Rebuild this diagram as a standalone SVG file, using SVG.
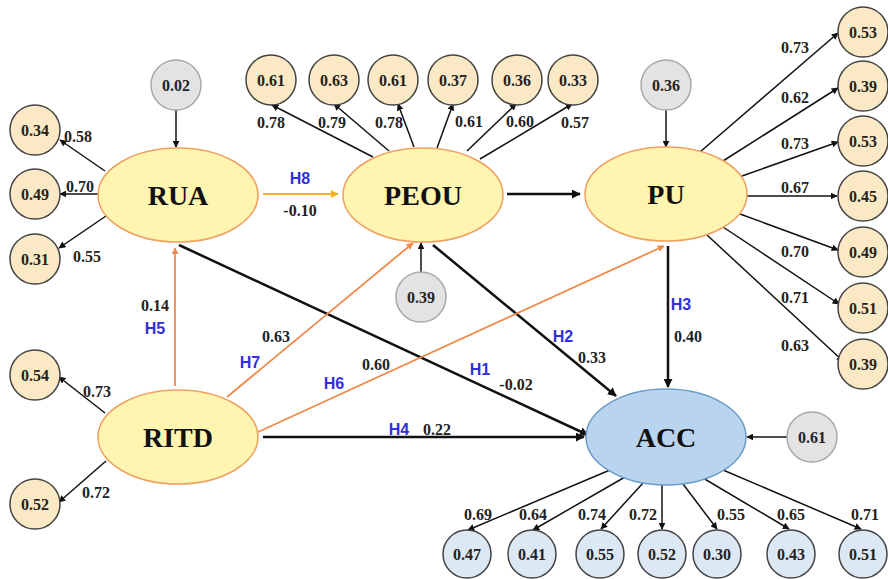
<svg xmlns="http://www.w3.org/2000/svg" width="888" height="579" viewBox="0 0 888 579">
<defs>
<marker id="ab" viewBox="0 0 10 10" refX="9" refY="5" markerWidth="7" markerHeight="7" orient="auto" markerUnits="userSpaceOnUse"><path d="M0,0 L10,5 L0,10 z" fill="#111"/></marker>
<marker id="ao" viewBox="0 0 10 10" refX="9" refY="5" markerWidth="7" markerHeight="7" orient="auto" markerUnits="userSpaceOnUse"><path d="M0,0 L10,5 L0,10 z" fill="#f08a4b"/></marker>
<marker id="ay" viewBox="0 0 10 10" refX="9" refY="5" markerWidth="8" markerHeight="8" orient="auto" markerUnits="userSpaceOnUse"><path d="M0,0 L10,5 L0,10 z" fill="#f5b021"/></marker>
<marker id="abig" viewBox="0 0 10 10" refX="9" refY="5" markerWidth="9" markerHeight="9" orient="auto" markerUnits="userSpaceOnUse"><path d="M0,0 L10,5 L0,10 z" fill="#111"/></marker>
</defs>
<style>
.lat{fill:#fff5b0;stroke:#f0a060;stroke-width:1.5}
.acc{fill:#b9d4ee;stroke:#6b9cc9;stroke-width:1.5}
.ind{fill:#fbe9c6;stroke:#444;stroke-width:1.5}
.indb{fill:#dce8f4;stroke:#444;stroke-width:1.5}
.err{fill:#e3e3e3;stroke:#a8a8a8;stroke-width:1.5}
.nl{font-family:"Liberation Serif",serif;font-weight:bold;font-size:28px;fill:#111;text-anchor:middle;dominant-baseline:central}
.cv{font-family:"Liberation Serif",serif;font-weight:bold;font-size:16px;fill:#222;text-anchor:middle;dominant-baseline:central}
.lv{font-family:"Liberation Serif",serif;font-weight:bold;font-size:16px;fill:#222;text-anchor:middle;dominant-baseline:central}
.h{font-family:"Liberation Sans",sans-serif;font-weight:bold;font-size:16px;fill:#3030e0;text-anchor:middle;dominant-baseline:central}
.k{stroke:#111;stroke-width:1.5;fill:none;marker-end:url(#ab)}
.kb{stroke:#111;stroke-width:2.5;fill:none;marker-end:url(#abig)}
.o{stroke:#f08a4b;stroke-width:1.8;fill:none;marker-end:url(#ao)}
.y{stroke:#f5b021;stroke-width:2;fill:none;marker-end:url(#ay)}
</style>

<g id="connectors">
<line class="k" x1="105" y1="171" x2="60" y2="140"/>
<line class="k" x1="98" y1="194" x2="60" y2="194"/>
<line class="k" x1="106" y1="216" x2="59" y2="248"/>
<line class="k" x1="105" y1="413" x2="59" y2="377"/>
<line class="k" x1="106" y1="461" x2="59" y2="502"/>
<line class="k" x1="373" y1="157" x2="272" y2="105"/>
<line class="k" x1="389" y1="151" x2="334" y2="104"/>
<line class="k" x1="414" y1="147" x2="398" y2="104"/>
<line class="k" x1="437" y1="148" x2="453" y2="104"/>
<line class="k" x1="467" y1="151" x2="516" y2="104"/>
<line class="k" x1="480" y1="159" x2="572" y2="104"/>
<line class="k" x1="700" y1="152" x2="838" y2="33"/>
<line class="k" x1="723" y1="161" x2="838" y2="88"/>
<line class="k" x1="742" y1="176" x2="838" y2="142"/>
<line class="k" x1="747" y1="196" x2="837" y2="196"/>
<line class="k" x1="740" y1="214" x2="838" y2="250"/>
<line class="k" x1="723" y1="227" x2="839" y2="304"/>
<line class="k" x1="707" y1="235" x2="843" y2="361"/>
<line class="k" x1="610" y1="470" x2="468" y2="530"/>
<line class="k" x1="625" y1="477" x2="533" y2="530"/>
<line class="k" x1="643" y1="483" x2="601" y2="529"/>
<line class="k" x1="662" y1="485" x2="662" y2="529"/>
<line class="k" x1="683" y1="484" x2="717" y2="529"/>
<line class="k" x1="703" y1="478" x2="789" y2="529"/>
<line class="k" x1="723" y1="470" x2="861" y2="529"/>
<line class="k" x1="176" y1="110" x2="176" y2="147"/>
<line class="k" x1="421" y1="272" x2="421" y2="243"/>
<line class="k" x1="666" y1="110" x2="666" y2="147"/>
<line class="k" x1="787" y1="437" x2="747" y2="437"/>
<line class="y" x1="263" y1="194" x2="338" y2="194"/>
<line class="kb" x1="507" y1="194" x2="580" y2="194"/>
<line class="kb" x1="179" y1="245" x2="588" y2="435"/>
<line class="kb" x1="433" y1="245" x2="616" y2="396"/>
<line class="kb" x1="668" y1="246" x2="668" y2="387"/>
<line class="kb" x1="263" y1="437" x2="584" y2="437"/>
<line class="o" x1="175" y1="386" x2="175" y2="248"/>
<line class="o" x1="227" y1="397" x2="413" y2="243"/>
<line class="o" x1="258" y1="432" x2="664" y2="246"/>
</g>

<g id="labels">
<text class="lv" x="78" y="136">0.58</text>
<text class="lv" x="80" y="186">0.70</text>
<text class="lv" x="87" y="256">0.55</text>
<text class="lv" x="97" y="391">0.73</text>
<text class="lv" x="96" y="492">0.72</text>
<text class="lv" x="271" y="122">0.78</text>
<text class="lv" x="332" y="122">0.79</text>
<text class="lv" x="389" y="122">0.78</text>
<text class="lv" x="469" y="121">0.61</text>
<text class="lv" x="520" y="121">0.60</text>
<text class="lv" x="575" y="122">0.57</text>
<text class="lv" x="795" y="47">0.73</text>
<text class="lv" x="795" y="97">0.62</text>
<text class="lv" x="795" y="143">0.73</text>
<text class="lv" x="795" y="187">0.67</text>
<text class="lv" x="795" y="251">0.70</text>
<text class="lv" x="795" y="297">0.71</text>
<text class="lv" x="795" y="345">0.63</text>
<text class="lv" x="478" y="514">0.69</text>
<text class="lv" x="533" y="514">0.64</text>
<text class="lv" x="592" y="514">0.74</text>
<text class="lv" x="643" y="514">0.72</text>
<text class="lv" x="731" y="514">0.55</text>
<text class="lv" x="791" y="514">0.65</text>
<text class="lv" x="865" y="514">0.71</text>
<text class="h" x="300" y="178">H8</text>
<text class="lv" x="300" y="210">-0.10</text>
<text class="h" x="480" y="369">H1</text>
<text class="lv" x="516" y="384">-0.02</text>
<text class="h" x="563" y="336">H2</text>
<text class="lv" x="592" y="357">0.33</text>
<text class="h" x="681" y="304">H3</text>
<text class="lv" x="688" y="336">0.40</text>
<text class="h" x="399" y="429">H4</text>
<text class="lv" x="437" y="429">0.22</text>
<text class="lv" x="155" y="305">0.14</text>
<text class="h" x="155" y="328">H5</text>
<text class="lv" x="276" y="336">0.63</text>
<text class="h" x="250" y="362">H7</text>
<text class="lv" x="376" y="364">0.60</text>
<text class="h" x="334" y="383">H6</text>
</g>

<g id="RUA"><ellipse class="lat" cx="178" cy="195" rx="80" ry="47"/><text class="nl" x="178" y="195">RUA</text></g>
<g id="PEOU"><ellipse class="lat" cx="423" cy="195" rx="80" ry="47"/><text class="nl" x="423" y="195">PEOU</text></g>
<g id="PU"><ellipse class="lat" cx="666" cy="194" rx="81" ry="47"/><text class="nl" x="666" y="194">PU</text></g>
<g id="RITD"><ellipse class="lat" cx="178" cy="437" rx="80" ry="47"/><text class="nl" x="178" y="437">RITD</text></g>
<g id="ACC"><ellipse class="acc" cx="666" cy="437" rx="80" ry="48"/><text class="nl" x="666" y="437">ACC</text></g>

<g id="e-RUA"><circle class="err" cx="176" cy="85" r="25"/><text class="cv" x="176" y="85">0.02</text></g>
<g id="e-PEOU"><circle class="err" cx="421" cy="297" r="25"/><text class="cv" x="421" y="297">0.39</text></g>
<g id="e-PU"><circle class="err" cx="666" cy="85" r="25"/><text class="cv" x="666" y="85">0.36</text></g>
<g id="e-ACC"><circle class="err" cx="812" cy="437" r="25"/><text class="cv" x="812" y="437">0.61</text></g>

<g id="rua1"><circle class="ind" cx="35" cy="130" r="25"/><text class="cv" x="35" y="130">0.34</text></g>
<g id="rua2"><circle class="ind" cx="35" cy="194" r="25"/><text class="cv" x="35" y="194">0.49</text></g>
<g id="rua3"><circle class="ind" cx="35" cy="259" r="25"/><text class="cv" x="35" y="259">0.31</text></g>
<g id="ritd1"><circle class="ind" cx="35" cy="375" r="25"/><text class="cv" x="35" y="375">0.54</text></g>
<g id="ritd2"><circle class="ind" cx="35" cy="504" r="25"/><text class="cv" x="35" y="504">0.52</text></g>

<g id="peou1"><circle class="ind" cx="271" cy="80" r="25"/><text class="cv" x="271" y="80">0.61</text></g>
<g id="peou2"><circle class="ind" cx="334" cy="80" r="25"/><text class="cv" x="334" y="80">0.63</text></g>
<g id="peou3"><circle class="ind" cx="393" cy="80" r="25"/><text class="cv" x="393" y="80">0.61</text></g>
<g id="peou4"><circle class="ind" cx="453" cy="80" r="25"/><text class="cv" x="453" y="80">0.37</text></g>
<g id="peou5"><circle class="ind" cx="517" cy="80" r="25"/><text class="cv" x="517" y="80">0.36</text></g>
<g id="peou6"><circle class="ind" cx="573" cy="80" r="25"/><text class="cv" x="573" y="80">0.33</text></g>

<g id="pu1"><circle class="ind" cx="863" cy="32" r="25"/><text class="cv" x="863" y="32">0.53</text></g>
<g id="pu2"><circle class="ind" cx="863" cy="86" r="25"/><text class="cv" x="863" y="86">0.39</text></g>
<g id="pu3"><circle class="ind" cx="863" cy="141" r="25"/><text class="cv" x="863" y="141">0.53</text></g>
<g id="pu4"><circle class="ind" cx="863" cy="196" r="25"/><text class="cv" x="863" y="196">0.45</text></g>
<g id="pu5"><circle class="ind" cx="863" cy="252" r="25"/><text class="cv" x="863" y="252">0.49</text></g>
<g id="pu6"><circle class="ind" cx="863" cy="308" r="25"/><text class="cv" x="863" y="308">0.51</text></g>
<g id="pu7"><circle class="ind" cx="863" cy="364" r="25"/><text class="cv" x="863" y="364">0.39</text></g>

<g id="acc1"><circle class="indb" cx="467" cy="554" r="24"/><text class="cv" x="467" y="554">0.47</text></g>
<g id="acc2"><circle class="indb" cx="532" cy="554" r="24"/><text class="cv" x="532" y="554">0.41</text></g>
<g id="acc3"><circle class="indb" cx="600" cy="554" r="24"/><text class="cv" x="600" y="554">0.55</text></g>
<g id="acc4"><circle class="indb" cx="662" cy="554" r="24"/><text class="cv" x="662" y="554">0.52</text></g>
<g id="acc5"><circle class="indb" cx="717" cy="554" r="24"/><text class="cv" x="717" y="554">0.30</text></g>
<g id="acc6"><circle class="indb" cx="791" cy="554" r="24"/><text class="cv" x="791" y="554">0.43</text></g>
<g id="acc7"><circle class="indb" cx="863" cy="554" r="24"/><text class="cv" x="863" y="554">0.51</text></g>
</svg>
